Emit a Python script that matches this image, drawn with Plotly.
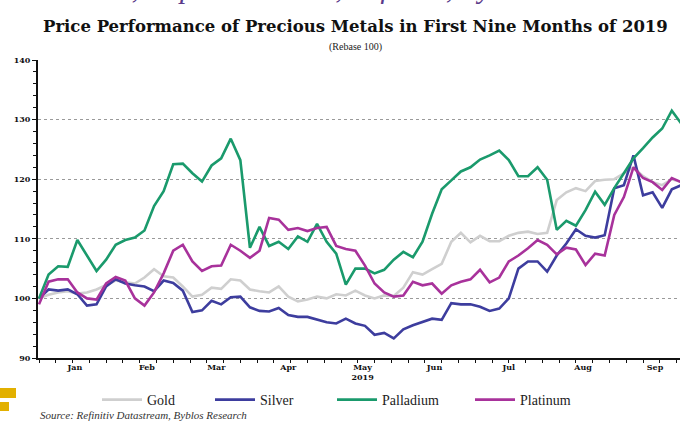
import pandas as pd
import plotly.graph_objects as go

# ---------------- data (rebased to 100, sampled every 4 days from 1 Jan 2019) ----------------
dates = pd.date_range("2019-01-01", periods=68, freq="4D")

gold = [100.0, 100.6, 101.0, 101.2, 100.8, 101.0, 101.5, 102.3, 103.0, 102.7,
        102.5, 103.5, 104.9, 103.7, 103.5, 102.0, 100.3, 100.6, 101.8, 101.6,
        103.2, 103.0, 101.5, 101.2, 101.0, 102.0, 100.3, 99.5, 99.8, 100.3,
        100.0, 100.7, 100.5, 101.3, 100.5, 100.0, 100.5, 100.4, 101.8, 104.4,
        104.0, 104.9, 105.8, 109.5, 111.0, 109.4, 110.5, 109.6, 109.6, 110.5,
        111.0, 111.2, 110.8, 111.0, 116.5, 117.8, 118.5, 118.0, 119.7, 119.9,
        120.0, 121.0, 122.0, 120.5, 119.5, 119.0, 120.0, 119.5]

silver = [100.0, 101.5, 101.3, 101.5, 100.7, 98.8, 99.0, 102.0, 103.2, 102.5,
          102.2, 102.0, 101.2, 103.0, 102.6, 101.3, 97.7, 98.0, 99.6, 99.0,
          100.2, 100.3, 98.5, 97.9, 97.8, 98.4, 97.2, 96.9, 96.9, 96.4,
          96.0, 95.8, 96.6, 95.8, 95.4, 93.9, 94.2, 93.3, 94.8, 95.5,
          96.0, 96.6, 96.4, 99.2, 99.0, 99.0, 98.6, 97.9, 98.3, 100.0,
          105.0, 106.2, 106.2, 104.5, 107.2, 109.2, 111.6, 110.5, 110.2, 110.6,
          118.5, 119.0, 124.0, 117.3, 117.8, 115.2, 118.3, 119.0]

palladium = [100.0, 104.0, 105.4, 105.3, 109.8, 107.3, 104.6, 106.5, 109.0, 109.8,
             110.2, 111.4, 115.5, 118.0, 122.5, 122.6, 121.0, 119.6, 122.3, 123.5,
             126.8, 123.2, 108.5, 112.0, 108.8, 109.5, 108.3, 110.4, 109.5, 112.5,
             109.5, 107.5, 102.3, 105.0, 105.0, 104.2, 104.8, 106.5, 107.8, 106.9,
             109.5, 114.2, 118.3, 119.8, 121.3, 122.0, 123.3, 124.0, 124.8, 123.2,
             120.5, 120.5, 122.0, 119.9, 111.5, 113.0, 112.2, 114.8, 117.9, 115.7,
             118.5, 121.0, 123.5, 125.2, 127.0, 128.5, 131.5, 129.3]

platinum = [99.0, 102.8, 103.2, 103.2, 101.0, 100.0, 99.8, 102.5, 103.6, 103.0,
            100.0, 98.8, 101.0, 104.2, 108.0, 109.0, 106.2, 104.6, 105.4, 105.5,
            109.0, 108.0, 106.8, 108.0, 113.5, 113.2, 111.5, 111.8, 111.3, 111.8,
            112.0, 108.8, 108.3, 108.0, 105.5, 102.5, 101.0, 100.3, 100.5, 102.8,
            102.2, 102.5, 100.8, 102.2, 102.8, 103.2, 104.8, 102.7, 103.5, 106.2,
            107.2, 108.4, 109.8, 109.0, 107.4, 108.5, 108.2, 105.6, 107.5, 107.2,
            114.0, 117.0, 122.0, 120.2, 119.5, 118.2, 120.2, 119.5]

series_names = ["Gold", "Silver", "Palladium", "Platinum"]
series_values = [gold, silver, palladium, platinum]
series_colors = ["#cfcfcf", "#3d3d9e", "#1a9a6c", "#a8329b"]

month_ticks = ["2019-01-16", "2019-02-15", "2019-03-16", "2019-04-15", "2019-05-16",
               "2019-06-15", "2019-07-16", "2019-08-16", "2019-09-15"]
month_labels = ["Jan", "Feb", "Mar", "Apr", "May<br>2019", "Jun", "Jul", "Aug", "Sep"]
y_ticks = [90, 100, 110, 120, 130, 140]

# ---------------- layout helpers ----------------
W, H = 680, 423
L, R, T, B = 38, 0, 60, 65
PW, PH = W - L - R, H - T - B


def px_x(px):
    return (px - L) / PW


def px_y(py):
    return (H - B - py) / PH


SERIF = "DejaVu Serif, Liberation Serif, serif"
SERIF2 = "Liberation Serif, Times New Roman, serif"

legend_ids = ["legend", "legend2", "legend3", "legend4"]
legend_left_px = [97, 210, 332, 470]   # left edge of each legend entry

fig = go.Figure()
for name, vals, col, lid in zip(series_names, series_values, series_colors, legend_ids):
    fig.add_trace(go.Scatter(x=dates, y=vals, mode="lines", name=name, legend=lid,
                             line=dict(color=col, width=2.6)))

legend_layout = {}
for lid, lx in zip(legend_ids, legend_left_px):
    legend_layout[lid] = dict(orientation="h", x=px_x(lx), xanchor="left",
                              y=px_y(400), yanchor="middle",
                              font=dict(family=SERIF2, size=14, color="#222"),
                              itemwidth=40, bgcolor="rgba(0,0,0,0)")

fig.update_layout(
    width=W, height=H,
    margin=dict(l=L, r=R, t=T, b=B),
    paper_bgcolor="white", plot_bgcolor="white",
    font=dict(family=SERIF, color="#111"),
    showlegend=True,
    **legend_layout,
)

fig.update_xaxes(
    range=["2018-12-31 14:00", "2019-09-25 10:00"],
    tickmode="array", tickvals=month_ticks, ticktext=month_labels,
    ticks="", showgrid=False, zeroline=False,
    showline=True, linecolor="#111", linewidth=2,
    tickfont=dict(family=SERIF, size=8, color="#111", weight="bold"),
    minor=dict(tickmode="linear", tick0="2019-01-01", dtick=7 * 86400000,
               ticks="outside", ticklen=3, tickcolor="#111", tickwidth=1, showgrid=False),
)

fig.update_yaxes(
    range=[90, 140], tickmode="array", tickvals=y_ticks,
    ticks="outside", ticklen=4, tickcolor="#111", tickwidth=1,
    showline=True, linecolor="#111", linewidth=2, zeroline=False,
    showgrid=True, gridcolor="#9a9a9a", griddash="dot", gridwidth=1,
    tickfont=dict(family=SERIF, size=8, color="#111", weight="bold"),
    minor=dict(tickmode="linear", tick0=90, dtick=2, ticks="outside", ticklen=3,
               tickcolor="#111", showgrid=False),
)

# title & subtitle
fig.add_annotation(text="<b>Price Performance of Precious Metals in First Nine Months of 2019</b>",
                   xref="paper", yref="paper", x=px_x(355), y=px_y(26),
                   xanchor="center", yanchor="middle", showarrow=False,
                   font=dict(family=SERIF, size=16.5, color="#111"))
fig.add_annotation(text="(Rebase 100)", xref="paper", yref="paper",
                   x=px_x(355), y=px_y(47), xanchor="center", yanchor="middle",
                   showarrow=False, font=dict(family=SERIF2, size=10, color="#222"))

# cropped source line at the very top of the image (partly outside the frame, as in the original)
fig.add_annotation(text="<i>Source: IIF, Capital Markets, Refinitiv, Byblos Research</i>",
                   xref="paper", yref="paper", x=px_x(0), y=px_y(6),
                   xanchor="left", yanchor="bottom", showarrow=False,
                   font=dict(family=SERIF2, size=29, color="#5a3a8a"))

# bottom source
fig.add_annotation(text="<i>Source: Refinitiv Datastream, Byblos Research</i>",
                   xref="paper", yref="paper", x=px_x(38), y=px_y(415),
                   xanchor="left", yanchor="middle", showarrow=False,
                   font=dict(family=SERIF2, size=11, color="#333"))

# yellow decorative squares
fig.add_shape(type="rect", xref="paper", yref="paper",
              x0=px_x(0), x1=px_x(16), y0=px_y(388), y1=px_y(398),
              fillcolor="#e2b000", line=dict(width=0))
fig.add_shape(type="rect", xref="paper", yref="paper",
              x0=px_x(0), x1=px_x(9), y0=px_y(402), y1=px_y(411),
              fillcolor="#e2b000", line=dict(width=0))

fig.write_html("out.html")
